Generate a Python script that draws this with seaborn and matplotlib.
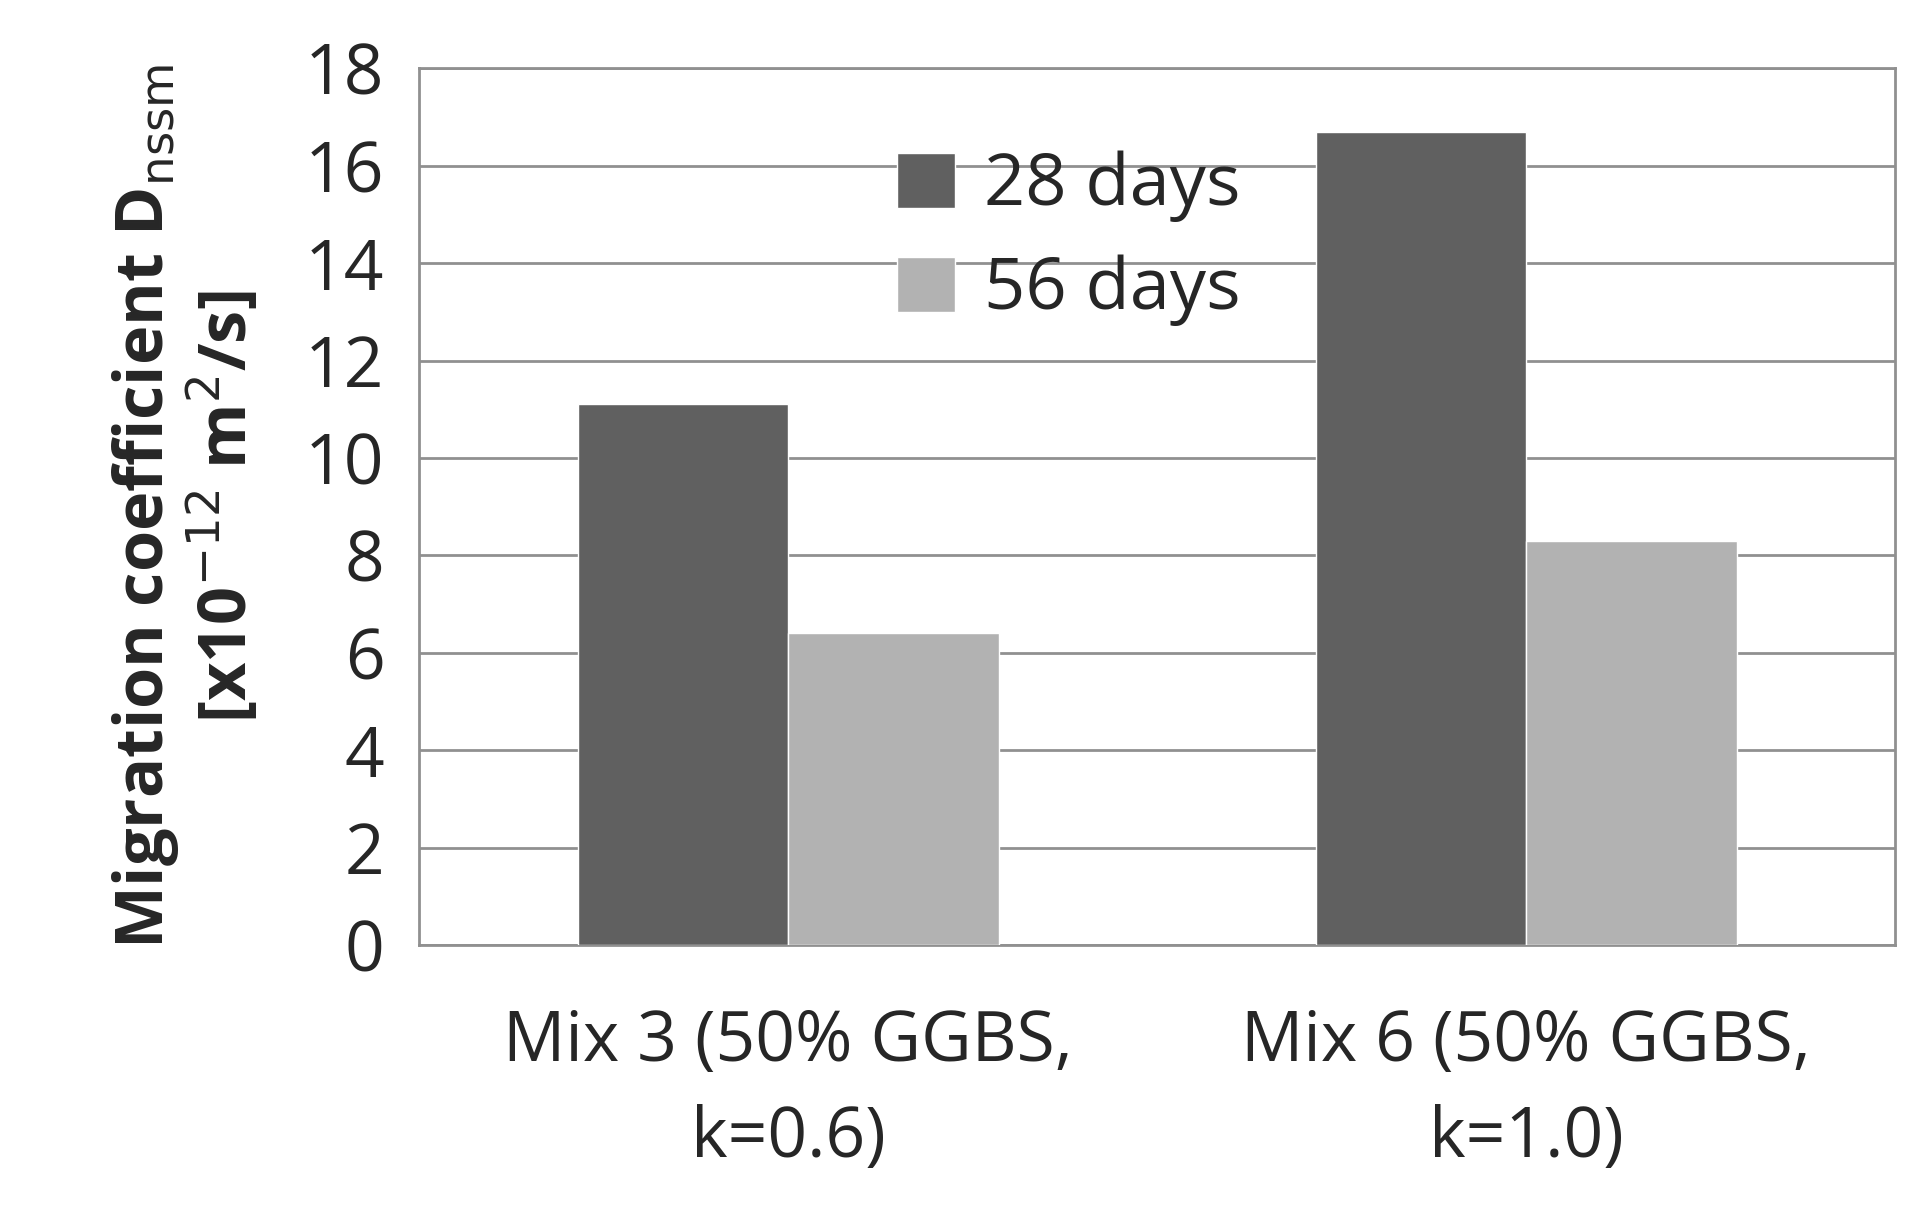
import matplotlib
matplotlib.use("Agg")
import matplotlib.pyplot as plt
import seaborn as sns
import pandas as pd

categories = ["Mix 3 (50% GGBS,\nk=0.6)", "Mix 6 (50% GGBS,\nk=1.0)"]
series = ["28 days", "56 days"]
vals_28 = [11.1, 16.7]
vals_56 = [6.4, 8.3]

df = pd.DataFrame({
    "cat": categories * 2,
    "series": [series[0]] * 2 + [series[1]] * 2,
    "val": vals_28 + vals_56,
})

sns.set_theme(style="white")
plt.rcParams['font.family'] = ['Open Sans', 'DejaVu Sans']

fig = plt.figure(figsize=(19.32, 12.21), dpi=100)
ax = fig.add_axes([0.217, 0.226, 0.764, 0.718])
sns.barplot(data=df, x="cat", y="val", hue="series", palette=["#606060", "#b2b2b2"],
            width=0.57, gap=0, saturation=1, ax=ax, zorder=3)
ax.set_ylim(0, 18)
ax.set_yticks(range(0, 19, 2))
ax.yaxis.grid(True, color="#909090", linewidth=2, zorder=0)
ax.set_axisbelow(True)
for s in ax.spines.values():
    s.set_color("#909090")
    s.set_linewidth(2)
ax.tick_params(axis="y", labelsize=50, length=0, pad=25)
ax.tick_params(axis="x", labelsize=50, length=0, pad=45)
for t in ax.get_xticklabels():
    t.set_linespacing(1.5)
ax.set_xlabel("")
ax.set_ylabel("Migration coefficient D$_{\\mathrm{nssm}}$\n[x10$^{-12}$ m$^2$/s]",
              fontsize=48, fontweight="bold", labelpad=30, linespacing=1.1)
leg = ax.legend(loc="upper center", bbox_to_anchor=(0.44, 0.98), frameon=False,
                fontsize=52, handlelength=0.8, handleheight=0.8, labelspacing=0.45,
                handletextpad=0.4)
fig.savefig("out.png", dpi=100)
